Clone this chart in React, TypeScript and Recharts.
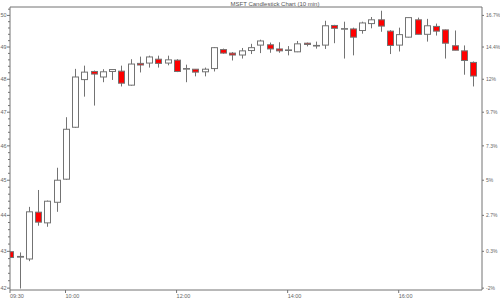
import React from "react";
import { ComposedChart, Bar, XAxis, YAxis, ReferenceLine } from "recharts";

const minutes = [
  0, 10, 20, 30, 40, 50, 60, 70, 80, 90, 100, 110, 120, 130, 140, 150, 160,
  170, 180, 190, 200, 210, 220, 230, 240, 250, 260, 270, 280, 290, 300, 310,
  320, 330, 340, 350, 360, 370, 380, 390, 400, 410, 420, 430, 440, 450, 460,
  470, 480, 490, 500,
];

const openPrices = [
  42.99, 42.84, 42.79, 44.09, 43.79, 44.37, 45.03, 46.55, 47.99, 48.24, 48.07,
  48.24, 48.25, 47.82, 48.49, 48.5, 48.62, 48.5, 48.59, 48.32, 48.31, 48.23,
  48.33, 48.92, 48.81, 48.75, 48.89, 49.06, 49.07, 48.94, 48.9, 48.85, 49.12,
  49.04, 49.06, 49.68, 49.57, 49.57, 49.52, 49.74, 49.86, 49.5, 49.06, 49.31,
  49.86, 49.4, 49.65, 49.54, 49.04, 48.88, 48.52,
];
const highPrices = [
  42.99, 42.97, 44.24, 44.72, 44.42, 45.36, 46.85, 48.32, 48.42, 48.27, 48.31,
  48.31, 48.42, 48.62, 48.7, 48.73, 48.73, 48.73, 48.62, 48.45, 48.31, 48.36,
  49.0, 48.95, 48.84, 48.97, 49.1, 49.23, 49.14, 49.15, 49.03, 49.19, 49.14,
  49.17, 49.83, 49.7, 49.8, 49.61, 49.8, 49.95, 50.15, 49.53, 49.61, 49.93,
  49.93, 49.89, 49.74, 49.55, 49.52, 49.05, 48.55,
];
const lowPrices = [
  42.83, 41.99, 42.73, 43.71, 43.68, 44.1, 45.01, 46.53, 47.47, 47.2, 47.91,
  47.98, 47.78, 47.8, 48.21, 48.36, 48.36, 48.43, 48.22, 47.91, 48.09, 48.09,
  48.24, 48.79, 48.58, 48.64, 48.78, 48.81, 48.82, 48.82, 48.74, 48.84, 49.02,
  48.95, 48.94, 49.12, 48.64, 48.74, 49.42, 49.59, 49.48, 48.78, 48.86, 49.3,
  49.4, 49.17, 49.36, 48.64, 48.9, 48.14, 47.78,
];
const closePrices = [
  42.83, 42.86, 44.1, 43.81, 44.4, 45.0, 46.49, 48.07, 48.22, 48.16, 48.23,
  48.3, 47.88, 48.47, 48.44, 48.69, 48.49, 48.6, 48.24, 48.33, 48.22, 48.31,
  48.98, 48.81, 48.75, 48.88, 48.98, 49.19, 48.94, 48.88, 48.91, 49.1, 49.08,
  49.05, 49.67, 49.59, 49.58, 49.31, 49.76, 49.86, 49.66, 49.05, 49.39, 49.93,
  49.4, 49.67, 49.5, 49.12, 48.9, 48.58, 48.1,
];

const xTicks = [0, 60, 180, 300, 420];
const xTickLabels = ["09:30", "10:00", "12:00", "14:00", "16:00"];

const priceTicks = [42, 43, 44, 45, 46, 47, 48, 49, 50];
const priceLabels = ["42", "43", "44", "45", "46", "47", "48", "49", "50"];
const pctLabels = ["-2%", "0.3%", "2.7%", "5%", "7.3%", "9.7%", "12%", "14.4%", "16.7%"];
const minorTicks = [
  42, 42.2, 42.4, 42.6, 42.8, 43, 43.2, 43.4, 43.6, 43.8, 44, 44.2, 44.4, 44.6,
  44.8, 45, 45.2, 45.4, 45.6, 45.8, 46, 46.2, 46.4, 46.6, 46.8, 47, 47.2, 47.4,
  47.6, 47.8, 48, 48.2, 48.4, 48.6, 48.8, 49, 49.2, 49.4, 49.6, 49.8, 50, 50.2,
];

const title = "MSFT Candlestick Chart (10 min)";

const yDomain = [41.95, 50.27];
const GRAY = "#737373";
const TEXT = "#666666";
const FONT = "Liberation Sans, Arial, sans-serif";

const data = minutes.map((t, i) => ({
  t,
  open: openPrices[i],
  high: highPrices[i],
  low: lowPrices[i],
  close: closePrices[i],
}));

const Candle = (props: any) => {
  const { x, y, width, height } = props;
  const d = props.payload ?? props;
  const top = Math.min(y, y + height);
  const h = Math.abs(height);
  const lh = Math.log(d.high);
  const ll = Math.log(d.low);
  // log scale -> interpolate in log space between high and low
  const toY = (p: number) =>
    lh === ll ? top : top + (h * (lh - Math.log(p))) / (lh - ll);
  const cx = Math.round(x + width / 2) + 0.5;
  const up = d.close >= d.open;
  const bTop = toY(Math.max(d.open, d.close));
  const bBot = toY(Math.min(d.open, d.close));
  return (
    <g>
      <line x1={cx} x2={cx} y1={top} y2={top + h} stroke={GRAY} strokeWidth={1} />
      <rect
        x={cx - width / 2}
        y={bTop}
        width={width}
        height={Math.max(bBot - bTop, 0.6)}
        fill={up ? "#ffffff" : "#ff0000"}
        stroke={GRAY}
        strokeWidth={1}
      />
    </g>
  );
};

const LeftTick = (props: any) => {
  const { x, y, payload } = props;
  const v = payload.value;
  const idx = priceTicks.findIndex((p) => Math.abs(p - v) < 0.01);
  const major = idx >= 0;
  return (
    <g>
      <line x1={x} x2={x - (major ? 3 : 2)} y1={y} y2={y} stroke={GRAY} />
      {major && (
        <text
          x={x - 3.5}
          y={y}
          dy={2}
          textAnchor="end"
          fontSize={5.5}
          fill={TEXT}
          fontFamily={FONT}
        >
          {priceLabels[idx]}
        </text>
      )}
    </g>
  );
};

const RightTick = (props: any) => {
  const { x, y, payload } = props;
  const idx = priceTicks.findIndex((p) => Math.abs(p - payload.value) < 0.01);
  return (
    <text x={x} y={y} dy={2} textAnchor="start" fontSize={5} fill={TEXT} fontFamily={FONT}>
      {pctLabels[idx]}
    </text>
  );
};

const BottomTick = (props: any) => {
  const { x, payload } = props;
  const idx = xTicks.indexOf(payload.value);
  return (
    <text x={x} y={298} textAnchor="start" fontSize={5.5} fill={TEXT} fontFamily={FONT}>
      {xTickLabels[idx]}
    </text>
  );
};

export default function App() {
  return (
    <div style={{ position: "relative", width: 500, height: 300, background: "#ffffff" }}>
      <style>{"body{margin:0}#root{overflow:visible}"}</style>
      <ComposedChart
        width={500}
        height={300}
        data={data}
        margin={{ top: 7, right: 0, left: 0, bottom: 0 }}
      >
        <XAxis
          dataKey="t"
          type="number"
          domain={[0, 510]}
          ticks={xTicks}
          allowDataOverflow
          height={10}
          tickSize={3}
          tickMargin={1}
          tick={<BottomTick />}
          axisLine={{ stroke: GRAY }}
          tickLine={{ stroke: GRAY }}
          interval={0}
        />
        <YAxis
          yAxisId="price"
          orientation="left"
          scale="log"
          domain={yDomain}
          allowDataOverflow
          ticks={minorTicks}
          interval={0}
          width={10}
          tickSize={0}
          tickMargin={0}
          tickLine={false}
          tick={<LeftTick />}
          axisLine={{ stroke: GRAY }}
        />
        <YAxis
          yAxisId="pct"
          orientation="right"
          scale="log"
          domain={yDomain}
          allowDataOverflow
          ticks={priceTicks}
          interval={0}
          width={18}
          tickSize={2}
          tickMargin={2}
          tick={<RightTick />}
          tickLine={{ stroke: GRAY }}
          axisLine={{ stroke: GRAY }}
        />
        <ReferenceLine yAxisId="price" y={yDomain[1]} stroke={GRAY} />
        <Bar
          yAxisId="price"
          dataKey={(d: any) => [d.low, d.high]}
          barSize={6}
          shape={<Candle />}
          isAnimationActive={false}
        />
      </ComposedChart>
      <svg
        width={500}
        height={10}
        style={{ position: "absolute", left: 0, top: 0, pointerEvents: "none" }}
      >
        <text x={275} y={6} textAnchor="middle" fontSize={6} fill="#555" fontFamily={FONT}>
          {title}
        </text>
      </svg>
    </div>
  );
}
